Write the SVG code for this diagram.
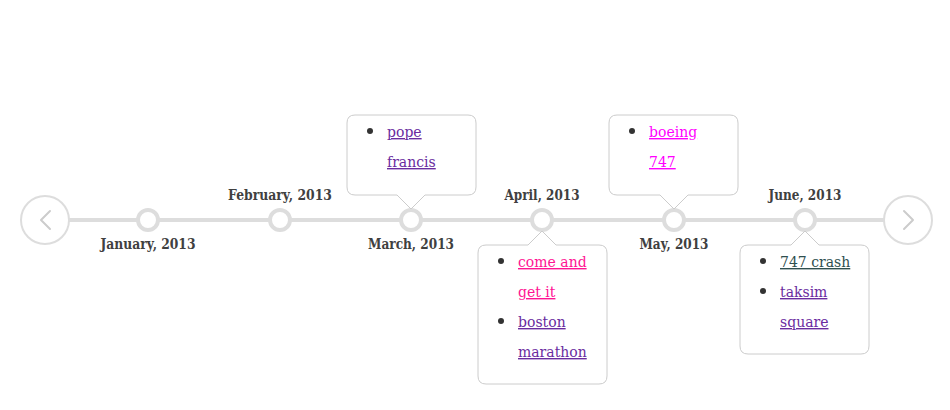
<svg xmlns="http://www.w3.org/2000/svg" width="950" height="410" viewBox="0 0 950 410">
<style>
.bg{fill:#ffffff}
.track{stroke:#dddddd;stroke-width:4;fill:none}
.dot{fill:#ffffff;stroke:#dddddd;stroke-width:4}
.nav{fill:#ffffff;stroke:#dddddd;stroke-width:2}
.chev{fill:none;stroke:#cccccc;stroke-width:2;stroke-linecap:round;stroke-linejoin:round}
.date{font-family:"DejaVu Serif","Liberation Serif",serif;font-weight:bold;font-size:14px;fill:#404040;text-anchor:middle}
.pop{fill:#ffffff;stroke:#cccccc;stroke-width:1}
.link{font-family:"DejaVu Serif","Liberation Serif",serif;font-size:14px;text-decoration:underline}
.purple{fill:#6a2ca0}
.pink{fill:#ff1493}
.magenta{fill:#ff00ff}
.teal{fill:#2f4f4f}
.bullet{fill:#333333}
</style>
<rect class="bg" x="0" y="0" width="950" height="410"/>
<g id="connectors">
<line class="track" x1="69" y1="220" x2="884" y2="220"/>
</g>
<g id="nav-prev">
<circle class="nav" cx="45" cy="220" r="24"/>
<polyline class="chev" points="50,211 41,220 50,229"/>
</g>
<g id="nav-next">
<circle class="nav" cx="908" cy="220" r="24"/>
<polyline class="chev" points="904,211 913,220 904,229"/>
</g>
<g id="jan">
<circle class="dot" cx="148" cy="220" r="10"/>
<text class="date" x="148" y="249" textLength="95" lengthAdjust="spacingAndGlyphs">January, 2013</text>
</g>
<g id="feb">
<circle class="dot" cx="280" cy="220" r="10"/>
<text class="date" x="280" y="200" textLength="104" lengthAdjust="spacingAndGlyphs">February, 2013</text>
</g>
<g id="mar">
<circle class="dot" cx="411" cy="220" r="10"/>
<text class="date" x="411" y="249" textLength="86" lengthAdjust="spacingAndGlyphs">March, 2013</text>
<path class="pop" d="M355,115 H468 Q476,115 476,123 V187 Q476,195 468,195 H425 L411,209 L397,195 H355 Q347,195 347,187 V123 Q347,115 355,115 Z"/>
<circle class="bullet" cx="370" cy="131" r="3"/>
<text class="link purple" x="387" y="137">pope</text>
<text class="link purple" x="387" y="167">francis</text>
</g>
<g id="apr">
<circle class="dot" cx="542" cy="220" r="10"/>
<text class="date" x="542" y="200" textLength="75" lengthAdjust="spacingAndGlyphs">April, 2013</text>
<path class="pop" d="M486,245 H528 L542,231 L556,245 H599 Q607,245 607,253 V376 Q607,384 599,384 H486 Q478,384 478,376 V253 Q478,245 486,245 Z"/>
<circle class="bullet" cx="501" cy="261" r="3"/>
<text class="link pink" x="518" y="267">come and</text>
<text class="link pink" x="518" y="297">get it</text>
<circle class="bullet" cx="501" cy="321" r="3"/>
<text class="link purple" x="518" y="327">boston</text>
<text class="link purple" x="518" y="357">marathon</text>
</g>
<g id="may">
<circle class="dot" cx="674" cy="220" r="10"/>
<text class="date" x="674" y="249" textLength="69" lengthAdjust="spacingAndGlyphs">May, 2013</text>
<path class="pop" d="M617,115 H730 Q738,115 738,123 V187 Q738,195 730,195 H688 L674,209 L660,195 H617 Q609,195 609,187 V123 Q609,115 617,115 Z"/>
<circle class="bullet" cx="632" cy="131" r="3"/>
<text class="link magenta" x="649" y="137">boeing</text>
<text class="link magenta" x="649" y="167">747</text>
</g>
<g id="jun">
<circle class="dot" cx="805" cy="220" r="10"/>
<text class="date" x="805" y="200" textLength="73" lengthAdjust="spacingAndGlyphs">June, 2013</text>
<path class="pop" d="M748,245 H791 L805,231 L819,245 H861 Q869,245 869,253 V346 Q869,354 861,354 H748 Q740,354 740,346 V253 Q740,245 748,245 Z"/>
<circle class="bullet" cx="763" cy="261" r="3"/>
<text class="link teal" x="780" y="267">747 crash</text>
<circle class="bullet" cx="763" cy="291" r="3"/>
<text class="link purple" x="780" y="297">taksim</text>
<text class="link purple" x="780" y="327">square</text>
</g>
</svg>
